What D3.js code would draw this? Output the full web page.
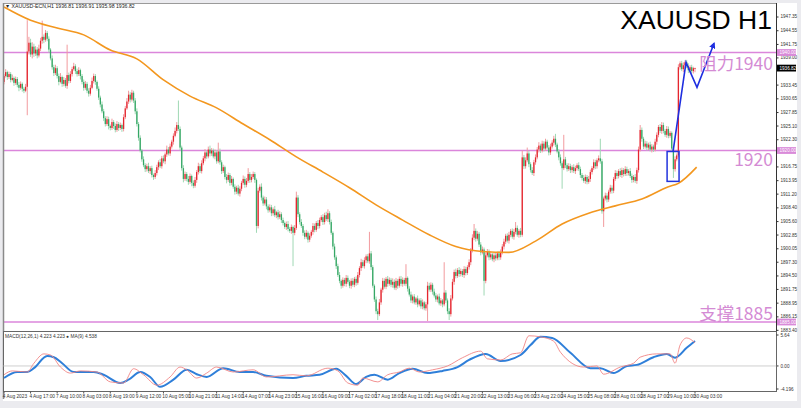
<!DOCTYPE html>
<html><head><meta charset="utf-8">
<script src="https://cdn.jsdelivr.net/npm/d3@7"></script>
<style>html,body{margin:0;padding:0;background:#ebebef;overflow:hidden}svg{display:block}</style>
</head><body><svg id="c" width="801" height="408"></svg>
<script>
// ---------- DATA ----------
const firstOpen = 1934.0;
const closes = [
1935.2,1936.0,1935.0,1935.6,1934.4,1934.8,1933.8,1934.6,1933.4,1932.8,
1933.6,1932.6,1932.2,1933.0,1940.2,1942.0,1939.6,1941.2,1939.8,1940.6,
1939.4,1940.8,1942.4,1943.2,1942.6,1944.0,1942.8,1940.6,1938.8,1937.0,
1935.8,1936.8,1935.2,1934.0,1935.0,1933.6,1934.4,1933.2,1935.4,1934.2,
1935.6,1936.6,1937.2,1936.2,1935.6,1936.4,1935.2,1934.0,1932.8,1933.6,
1932.2,1931.6,1932.8,1934.2,1935.2,1934.0,1932.6,1930.8,1929.4,1928.0,
1926.6,1925.4,1926.4,1925.0,1924.6,1925.8,1925.0,1924.2,1925.4,1924.6,
1925.2,1924.4,1926.8,1928.6,1930.0,1931.4,1930.4,1931.8,1930.2,1928.0,
1925.4,1922.6,1920.0,1918.2,1917.0,1916.2,1916.8,1915.8,1916.4,1915.0,
1914.6,1915.4,1916.6,1917.6,1916.8,1918.4,1917.8,1919.2,1920.2,1919.4,
1920.8,1921.8,1923.0,1924.0,1925.2,1924.4,1920.6,1916.4,1914.2,1915.2,
1914.2,1913.6,1914.8,1913.4,1912.8,1914.0,1915.6,1916.8,1915.8,1917.4,
1918.4,1919.6,1918.8,1920.2,1919.4,1920.0,1918.8,1919.6,1917.8,1919.8,
1917.6,1915.8,1916.6,1914.6,1914.0,1915.0,1913.4,1914.2,1912.6,1911.6,
1912.4,1911.2,1912.2,1913.4,1914.2,1913.0,1913.8,1915.2,1914.0,1914.6,
1915.2,1914.0,1904.6,1911.8,1912.6,1910.4,1909.2,1910.0,1908.6,1907.8,
1908.4,1907.2,1908.0,1906.8,1907.4,1906.4,1907.0,1905.8,1905.2,1904.4,
1905.0,1904.0,1903.6,1904.4,1903.2,1904.2,1910.4,1907.0,1905.4,1904.6,
1903.2,1902.4,1903.2,1901.8,1902.6,1903.4,1904.6,1903.8,1905.2,1904.6,
1905.8,1906.4,1905.4,1906.8,1906.0,1907.2,1905.4,1903.2,1900.4,1898.2,
1896.4,1894.6,1893.4,1892.4,1893.6,1892.8,1894.0,1893.2,1892.4,1893.4,
1892.6,1893.8,1893.0,1894.6,1896.0,1897.2,1896.4,1897.6,1898.4,1897.4,
1899.0,1896.2,1892.4,1889.6,1887.2,1886.6,1889.0,1891.6,1893.4,1892.2,
1893.8,1892.8,1893.6,1892.6,1893.2,1892.0,1893.4,1892.4,1893.8,1892.8,
1893.6,1892.8,1894.0,1891.8,1890.6,1889.4,1890.2,1889.0,1889.8,1888.6,
1889.4,1888.2,1889.0,1887.8,1888.6,1892.4,1891.6,1892.6,1891.2,1890.4,
1889.6,1890.2,1888.8,1889.4,1888.6,1891.0,1889.4,1887.2,1886.6,1889.8,
1893.2,1895.2,1894.4,1895.6,1894.8,1895.4,1894.6,1895.8,1895.0,1896.2,
1897.2,1899.6,1902.2,1903.6,1902.0,1903.0,1900.8,1899.2,1899.8,1893.4,
1898.6,1899.4,1898.2,1898.8,1897.8,1898.6,1898.0,1899.0,1898.2,1899.2,
1900.4,1901.4,1902.6,1901.6,1902.8,1903.6,1902.4,1903.4,1904.2,1902.8,
1903.6,1902.8,1918.6,1916.8,1918.0,1919.4,1917.2,1916.0,1915.4,1917.6,
1918.6,1920.2,1921.0,1920.0,1921.4,1920.4,1921.8,1920.6,1919.6,1920.8,
1921.6,1922.4,1921.2,1919.8,1918.6,1917.4,1916.4,1918.2,1917.0,1916.2,
1916.8,1916.0,1916.6,1915.8,1916.4,1917.0,1916.2,1915.0,1914.4,1913.8,
1914.6,1913.6,1914.2,1915.6,1916.4,1917.6,1916.8,1918.0,1918.4,1917.8,
1907.6,1910.2,1910.8,1910.0,1911.6,1912.4,1911.8,1914.2,1915.4,1914.8,
1915.8,1915.0,1916.0,1915.2,1916.2,1915.4,1915.8,1914.8,1914.0,1914.6,
1913.8,1916.0,1920.2,1924.2,1922.4,1920.8,1921.4,1920.6,1921.2,1920.2,
1920.8,1920.2,1921.8,1923.2,1924.8,1924.0,1925.2,1924.0,1923.2,1924.4,
1923.0,1923.6,1920.4,1916.2,1918.2,1919.0,1937.0,1937.8,1936.6,1937.4,
1938.0,1937.2,1936.4,1937.0,1936.2,1936.8,1936.82];
const wickUp = [
.4,.6,.3,.5,.4,.7,.3,.5,.4,.6, .5,.3,.4,.6,6.4,1.2,.8,.9,.6,.7,
.5,.8,.6,3.3,.5,.6,.4,.5,.3,.6, .5,.7,.4,.5,.8,.3,.6,.4,6.2,.5,
.6,.5,.7,.4,.5,.6,.3,.4,.5,.6, .4,.5,.6,.7,.5,.4,.3,.5,.4,.6,
.5,.4,.6,.5,.3,.7,.4,.5,.6,.4, .5,.3,.6,.5,.7,.8,.5,.6,.4,.5,
.6,.4,.5,.3,.6,.4,.5,.7,.4,.5, .3,.6,.5,.4,.7,.5,.6,.4,.8,.5,
.6,.4,.5,.7,.6,5.0,.5,.4,.6,.5, .4,.6,.5,.3,.5,.6,.4,.7,.5,.6,
.5,.7,.4,.6,.8,.5,.4,.6,.5,1.8, .6,.4,.5,.3,.6,.5,.4,.6,.3,.5,
.4,.6,.5,.4,.7,.5,.6,1.2,.4,.6, .5,.4,.3,.6,.5,.7,.4,.6,.5,.4,
.6,.5,.4,.7,.3,.5,.6,.4,.5,.3, .5,.6,.4,.5,.3,.6,1.2,.5,.4,.6,
.4,.5,.6,.3,.5,.4,.6,.5,.4,.6, .5,.4,.6,.5,.7,.8,.4,.5,.3,.6,
.4,.5,.6,.3,.5,.4,.6,.5,.4,.5, .6,.4,.5,.6,.4,.7,.5,.6,.4,.5,
4.4,.5,.4,.3,.6,.5,.7,.4,.6,.5, .4,.6,.5,.4,.7,.5,.6,.4,.5,.6,
.5,.4,2.8,.3,.5,.6,.4,.5,.3,.6, .4,.5,.6,.3,.5,.8,.6,.5,.4,.6,
.5,.4,.6,.5,.3,6.2,.5,.4,.6,.7, .6,.5,.7,.4,.6,.5,.4,.6,.5,.4,
.6,.5,.7,1.4,.5,.6,.4,.5,.6,.4, .6,.5,.4,.6,.3,.5,.6,.4,.5,.6,
.5,.6,.4,.5,.6,.4,.5,.6,1.2,.5, .4,.6,1.4,.5,.6,1.2,.5,.4,.6,.5,
.6,.5,.7,.4,.6,.5,.6,.4,.5,.6, .5,.6,1.0,.4,.5,.6,.4,5.0,.5,.4,
.6,.5,.4,.6,.5,.4,.6,.5,.4,.6, .5,.4,.6,.5,.4,.6,.5,.4,.6,4.0,
.5,.4,.6,.5,.4,.6,.5,.4,.6,.5, .4,.6,.5,.4,.6,.5,.4,.6,.5,.4,
.6,.5,.6,1.0,.5,.4,.6,.5,.4,.6, .5,.4,.6,.5,.4,.6,.6,.5,.4,.6,
.5,.4,.3,.5,.6,.4,.6,.4,.5,.6, .4,.5,.6,.4,.5,.3,.09];
const wickDn = [
.5,.3,.6,.4,.5,.3,.6,.4,.5,.7, .4,.6,.5,.3,5.8,.6,.5,.8,.7,.5,
.6,.4,.5,.6,.7,.4,.5,.6,.4,.5, .6,.4,.5,.7,.3,.6,.5,.4,.6,.5,
.4,.5,.3,.6,.5,.4,.7,.5,.6,.4, .5,.6,.4,.3,.5,.6,.4,.5,.6,.4,
.6,.5,.4,.7,.5,.4,.6,.5,.4,.6, .4,.6,.5,.4,.3,.5,.6,.4,.5,.6,
.5,.6,.4,.5,.4,.6,.5,.4,.6,.5, .6,.4,.5,.6,.4,.5,.4,.6,.5,.4,
.5,.4,.6,.3,.5,.4,.6,.5,.7,.4, .5,.6,.4,.7,.5,.4,.6,.5,.4,.5,
.4,.6,.5,.4,.6,.5,.4,.6,.5,.4, .5,.6,.4,.5,.7,.4,.6,.5,.4,.6,
.5,.4,.6,.5,.4,.6,.5,.4,.6,.5, .4,.6,1.4,.5,.4,.6,.5,.4,.6,.5,
.4,.6,.5,.4,.6,.5,.4,.6,.5,.4, .6,.5,.4,.6,6.8,.5,.4,.6,.5,.4,
.6,.5,.4,.6,.5,.4,.6,.5,.4,.6, .5,.4,.6,.5,.4,.6,.5,.4,.6,.5,
.6,.4,.5,.6,.4,.5,.6,.4,.5,.6, .4,.5,.6,.4,.5,.6,.4,.5,.6,.4,
.5,.6,.4,.5,.6,1.2,.4,.5,.6,.4, .5,.6,.4,.5,.6,.4,.5,.6,.4,.5,
.6,.4,.5,.6,.4,.5,.6,.4,.5,.6, .4,.5,.6,.4,.5,3.4,.4,.5,.6,.4,
.5,.6,.4,.5,.6,.4,.5,.6,1.2,.5, .4,.6,.5,.4,.6,.5,.4,.6,.5,.4,
.5,.6,.4,.5,.6,.4,.5,.6,.4,3.0, .5,.4,.6,.5,.4,.6,.5,.4,.6,.5,
.4,.6,.5,.4,.6,.5,.4,.6,.5,.4, .6,.5,.4,.6,.5,.4,.6,.5,.4,.6,
.5,.4,.6,.5,.4,.6,.5,.4,.6,.5, .4,.6,.5,.4,.6,.5,4.2,.4,.6,.5,
.4,.6,.5,.4,.6,.5,.4,.6,.5,.4, .6,.5,.4,.6,.5,.4,.6,.5,.4,.5,
.5,3.2,.4,.6,.5,.4,.6,.5,.4,.6, .5,.4,.6,.5,.4,.6,.5,.4,.6,.5,
.4,.6,.5,.4,.6,.5,.4,.6,.5,.4, .6,.5,.4,.6,.5,.4,.6,.5,.4,.6,
.5,.4,.6,1.8,.5,.4,.4,.5,.4,.6, .5,.4,.6,.5,.4,.5,.82];

const maBars = [0,16,32,48,64,80,96,112,128,144,160,176,192,208,224,240,256,272,288,304,320,336,352,368,384,400,406,417];
const maVals = [1949.3,1946.6,1945.0,1943.6,1940.5,1938.7,1934.4,1931.1,1928.7,1925.4,1922.2,1918.7,1915.6,1912.4,1908.9,1905.8,1902.8,1900.4,1899.4,1899.2,1901.5,1905.0,1907.2,1908.7,1910.1,1912.6,1913.3,1916.6];

const macdBars = [0,5,14,18,24,28,34,40,46,56,64,72,78,84,92,100,106,110,116,122,128,138,150,158,174,182,195,201,207,213,216,225,231,238,244,250,258,267,276,287,291,299,306,311,316,323,331,335,349,357,361,371,379,383,393,401,404,407,411,416];
const macdVals = [-1.6,-0.9,-1.1,0.5,2.2,2.0,-0.2,-1.3,-0.9,-1.1,-2.9,-3.1,-0.5,-1.6,-3.5,-2.0,-0.2,-0.7,-2.2,-1.3,-0.2,-1.1,-0.7,-2.0,-1.6,-1.8,-0.4,-0.9,-3.1,-3.5,-2.2,-2.9,-1.6,-1.1,-0.4,-1.1,-0.7,0.0,1.5,2.7,1.3,1.1,2.2,2.4,5.5,5.3,4.5,2.5,-0.2,0.0,-1.5,-0.2,0.5,1.6,2.2,2.2,0.5,3.8,5.1,4.223];
const signalBars = [0,8,14,18,26,30,35,42,54,60,70,75,82,88,94,102,110,116,122,132,142,150,158,174,182,190,200,206,212,218,223,231,238,246,255,264,273,280,290,299,311,317,323,330,341,353,359,367,375,381,391,399,404,411,416];
const signalVals = [-2.2,-1.1,-1.1,-0.4,1.8,1.6,0.5,-1.1,-1.1,-1.6,-3.1,-2.5,-1.1,-2.0,-3.8,-2.5,-0.7,-1.5,-2.0,-0.4,-1.1,-1.1,-1.8,-2.2,-1.8,-1.6,-0.5,-1.8,-3.3,-2.0,-1.6,-2.5,-1.3,-0.5,-1.3,-0.9,-0.2,1.1,2.2,0.9,2.0,3.8,5.3,5.1,2.4,-0.4,-0.4,-1.3,0.0,0.2,1.6,2.2,1.5,3.3,4.538];

// price ticks (1936.20 and 1919.50 lie under the price tags and are not shown)
const priceTicks = [1947.35,1944.55,1941.75,1939.00,1933.45,1930.65,1927.85,1925.10,1922.30,1916.75,1913.95,1911.20,1908.40,1905.60,1902.85,1900.05,1897.30,1894.50,1891.75,1888.95,1886.15,1883.40];
const macdTicks = [5.64,0.00,-4.196];
const macdTickLabels = ["5.64","0.00","-4.196"];
const timeLabels = ["4 Aug 2023","4 Aug 17:00","7 Aug 10:00","8 Aug 03:00","8 Aug 19:00","9 Aug 12:00","10 Aug 05:00","10 Aug 21:00","11 Aug 14:00","14 Aug 07:00","14 Aug 23:00","15 Aug 16:00","16 Aug 09:00","17 Aug 02:00","17 Aug 18:00","18 Aug 11:00","21 Aug 04:00","21 Aug 20:00","22 Aug 13:00","23 Aug 06:00","23 Aug 22:00","24 Aug 15:00","25 Aug 08:00","28 Aug 01:00","28 Aug 17:00","29 Aug 10:00","30 Aug 03:00"];
const barsPerLabel = 16;

const levels = [1940, 1920, 1885];
const levelTexts = ["阻力1940", "1920", "支撑1885"];
const currentPrice = 1936.82;
const arrowBars = [402.8, 410.6, 417.2, 427.5];
const arrowPrices = [1919.8, 1938.0, 1932.9, 1941.9];
const boxBars = [399.2, 406.4];
const boxPrices = [1919.8, 1913.7];
const headerText = "XAUUSD-ECN,H1  1936.81 1936.91 1935.98 1936.82";
const macdText = "MACD(12,26,1) 4.223 4.223  \u25CF MA(9) 4.538";
const titleText = "XAUUSD H1";

// ---------- DRAW ----------
const svg = d3.select('#c');
const FONT = "'Liberation Sans', Arial, sans-serif";
const CJK = "'Noto Sans CJK SC', 'Liberation Sans', sans-serif";
const N = closes.length;

const x = d3.scaleLinear().domain([0, 416]).range([4, 695]);
const y = d3.scaleLinear().domain([1947.35, 1885]).range([16.5, 322]);
const ym = d3.scaleLinear().domain([5.64, -4.196]).range([335, 389]);

svg.append('rect').attr('x', 3).attr('y', 3).attr('width', 794).attr('height', 398).attr('fill', '#fff');

const defs = svg.append('defs');
defs.append('clipPath').attr('id', 'cm').append('rect').attr('x', 3.5).attr('y', 3.5).attr('width', 773).attr('height', 326);
defs.append('clipPath').attr('id', 'cd').append('rect').attr('x', 3.5).attr('y', 332).attr('width', 773).attr('height', 59);
const mk = defs.append('marker').attr('id', 'ah').attr('viewBox', '0 0 10 10').attr('refX', 8).attr('refY', 5)
  .attr('markerWidth', 4).attr('markerHeight', 4).attr('orient', 'auto');
mk.append('path').attr('d', 'M0,0 L10,5 L0,10 z').attr('fill', '#1f2fe0');

const main = svg.append('g').attr('clip-path', 'url(#cm)');

// level lines
main.selectAll('line.lvl').data(levels).join('line').attr('class', 'lvl')
  .attr('x1', 3.5).attr('x2', 776.5).attr('y1', d => y(d)).attr('y2', d => y(d))
  .attr('stroke', '#db86db').attr('stroke-width', 1.3);

// candles
const candles = closes.map((c, i) => {
  const o = i === 0 ? firstOpen : closes[i - 1];
  return { i, o, c, h: Math.max(o, c) + wickUp[i], l: Math.min(o, c) - wickDn[i] };
});
const cg = main.append('g');
cg.selectAll('line.w').data(candles).join('line').attr('class', 'w')
  .attr('x1', d => x(d.i)).attr('x2', d => x(d.i))
  .attr('y1', d => y(d.h)).attr('y2', d => y(d.l))
  .attr('stroke', d => d.c >= d.o ? '#f29a9e' : '#9fd8b4').attr('stroke-width', 1);
cg.selectAll('rect.b').data(candles).join('rect').attr('class', 'b')
  .attr('x', d => x(d.i) - 0.65).attr('width', 1.3)
  .attr('y', d => y(Math.max(d.o, d.c)))
  .attr('height', d => Math.max(0.8, Math.abs(y(d.o) - y(d.c))))
  .attr('fill', d => d.c >= d.o ? '#e5262f' : '#35a765');

// moving average
const maData = maBars.map((b, k) => [b, maVals[k]]);
main.append('path').datum(maData)
  .attr('d', d3.line().x(d => x(d[0])).y(d => y(d[1])).curve(d3.curveMonotoneX))
  .attr('fill', 'none').attr('stroke', '#f3971f').attr('stroke-width', 1.6);

// box + arrow
main.append('rect').attr('x', x(boxBars[0])).attr('y', y(boxPrices[0]))
  .attr('width', x(boxBars[1]) - x(boxBars[0])).attr('height', y(boxPrices[1]) - y(boxPrices[0]))
  .attr('fill', 'none').attr('stroke', '#2233dd').attr('stroke-width', 1.5);
const arrowData = arrowBars.map((b, k) => [b, arrowPrices[k]]);
main.append('path').datum(arrowData)
  .attr('d', d3.line().x(d => x(d[0])).y(d => y(d[1])))
  .attr('fill', 'none').attr('stroke', '#1f2fe0').attr('stroke-width', 1.6)
  .attr('marker-end', 'url(#ah)');

// level texts
svg.selectAll('text.lt').data(levels).join('text').attr('class', 'lt')
  .attr('x', 773).attr('y', d => y(d) + (d === 1920 ? 15 : (d === 1940 ? 17.5 : -2.5)))
  .attr('text-anchor', 'end').attr('font-family', CJK).attr('font-size', 17.5)
  .attr('fill', '#d48bd4').text((d, k) => levelTexts[k]);

// title
svg.append('text').attr('x', 772).attr('y', 28.5).attr('text-anchor', 'end')
  .attr('font-family', FONT).attr('font-size', 26.5).attr('fill', '#000').text(titleText);
svg.append('text').attr('x', 5).attr('y', 8.3).attr('font-family', FONT).attr('font-size', 5.2)
  .attr('fill', '#222').text('\u25BC ' + headerText);

// frame
svg.append('line').attr('x1', 3).attr('x2', 776.5).attr('y1', 3.5).attr('y2', 3.5).attr('stroke', '#9a9a9a');
svg.append('line').attr('x1', 3.5).attr('x2', 3.5).attr('y1', 3).attr('y2', 399).attr('stroke', '#8a8a8a').attr('stroke-width', 1.5);

// price axis
const pa = svg.append('g').attr('transform', 'translate(776.5,0)')
  .call(d3.axisRight(y).tickValues(priceTicks).tickFormat(d3.format('.2f')).tickSize(2).tickPadding(2));
pa.select('.domain').attr('d', 'M0,3V331').attr('stroke', '#333');
pa.selectAll('text').attr('font-family', FONT).attr('font-size', 4.6).attr('fill', '#333');
pa.selectAll('line').attr('stroke', '#333');

// axis price labels
const tagData = levels.map(v => ({ v, bg: '#d98ad9', fg: '#fff' })).concat([{ v: currentPrice, bg: '#000', fg: '#fff' }]);
const tags = svg.selectAll('g.tag').data(tagData).join('g').attr('class', 'tag')
  .attr('transform', d => `translate(777,${y(d.v)})`);
tags.append('rect').attr('x', 0).attr('y', -3.4).attr('width', 19).attr('height', 6.8).attr('fill', d => d.bg);
tags.append('text').attr('x', 2.5).attr('y', 1.7).attr('font-family', FONT).attr('font-size', 4.6)
  .attr('fill', d => d.fg).text(d => d.v.toFixed(2));

// MACD panel
svg.append('rect').attr('x', 3.5).attr('y', 331.5).attr('width', 773).attr('height', 60)
  .attr('fill', '#fff').attr('stroke', '#666').attr('stroke-width', 1);
svg.append('line').attr('x1', 3.5).attr('x2', 776.5).attr('y1', ym(0)).attr('y2', ym(0)).attr('stroke', '#cfcfcf');
const md = svg.append('g').attr('clip-path', 'url(#cd)');
md.append('path').datum(signalBars.map((b, k) => [b, signalVals[k]]))
  .attr('d', d3.line().x(d => x(d[0])).y(d => ym(d[1])).curve(d3.curveMonotoneX))
  .attr('fill', 'none').attr('stroke', '#2f7fd9').attr('stroke-width', 2);
md.append('path').datum(macdBars.map((b, k) => [b, macdVals[k]]))
  .attr('d', d3.line().x(d => x(d[0])).y(d => ym(d[1])).curve(d3.curveMonotoneX))
  .attr('fill', 'none').attr('stroke', '#f08585').attr('stroke-width', 0.9);
svg.append('text').attr('x', 5).attr('y', 338).attr('font-family', FONT).attr('font-size', 4.8)
  .attr('fill', '#333').text(macdText);
const ma = svg.append('g').attr('transform', 'translate(776.5,0)');
ma.selectAll('line').data(macdTicks).join('line').attr('x1', 0).attr('x2', 2)
  .attr('y1', d => ym(d)).attr('y2', d => ym(d)).attr('stroke', '#333');
ma.selectAll('text').data(macdTicks).join('text').attr('x', 4).attr('y', d => ym(d) + 1.6)
  .attr('font-family', FONT).attr('font-size', 4.6).attr('fill', '#333').text((d, k) => macdTickLabels[k]);

// time axis
const tl = svg.append('g');
tl.selectAll('line').data(timeLabels).join('line')
  .attr('x1', (d, k) => x(k * barsPerLabel)).attr('x2', (d, k) => x(k * barsPerLabel))
  .attr('y1', 391.5).attr('y2', 393.5).attr('stroke', '#555');
tl.selectAll('text').data(timeLabels).join('text')
  .attr('x', (d, k) => x(k * barsPerLabel) - 1.2).attr('y', 398)
  .attr('font-family', FONT).attr('font-size', 4.8).attr('fill', '#333').text(d => d);
</script></body></html>
